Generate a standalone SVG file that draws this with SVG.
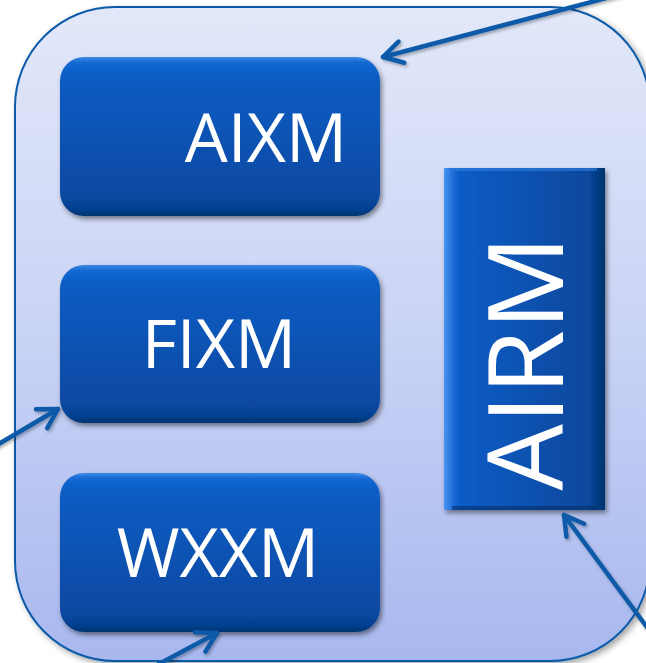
<svg xmlns="http://www.w3.org/2000/svg" width="646" height="663" viewBox="0 0 646 663">
<defs>
  <linearGradient id="bg" x1="0" y1="0" x2="0" y2="1">
    <stop offset="0" stop-color="#e2e8f9"/>
    <stop offset="0.5" stop-color="#c9d3f5"/>
    <stop offset="1" stop-color="#a8b8ef"/>
  </linearGradient>
  <linearGradient id="box" x1="0" y1="0" x2="0" y2="1">
    <stop offset="0" stop-color="#3b8ae6"/>
    <stop offset="0.035" stop-color="#1468d2"/>
    <stop offset="0.12" stop-color="#0a5cc4"/>
    <stop offset="0.88" stop-color="#0749a2"/>
    <stop offset="0.96" stop-color="#063f8e"/>
    <stop offset="1" stop-color="#05336f"/>
  </linearGradient>
  <linearGradient id="airm" x1="0" y1="0" x2="1" y2="0">
    <stop offset="0" stop-color="#4a95f2"/>
    <stop offset="0.06" stop-color="#1a6ad6"/>
    <stop offset="0.1" stop-color="#0a5cc6"/>
    <stop offset="0.9" stop-color="#07489c"/>
    <stop offset="0.94" stop-color="#063e88"/>
    <stop offset="1" stop-color="#05346f"/>
  </linearGradient>
  <filter id="sh" x="-10%" y="-10%" width="125%" height="125%">
    <feDropShadow dx="2" dy="3" stdDeviation="2.5" flood-color="#000" flood-opacity="0.45"/>
  </filter>
  <filter id="shc" x="-5%" y="-5%" width="115%" height="115%">
    <feDropShadow dx="3" dy="3" stdDeviation="3" flood-color="#000" flood-opacity="0.35"/>
  </filter>
  <filter id="sha" x="-10%" y="-10%" width="130%" height="130%">
    <feDropShadow dx="1.5" dy="2" stdDeviation="1.5" flood-color="#000" flood-opacity="0.3"/>
  </filter>
  <marker id="ah" markerUnits="userSpaceOnUse" viewBox="-30 -20 40 40" markerWidth="40" markerHeight="40" refX="0" refY="0" orient="auto" overflow="visible">
    <path d="M-19,-11 L0,0 L-19,11" fill="none" stroke="#0b5aa8" stroke-width="4.5" stroke-linecap="round" stroke-linejoin="round"/>
  </marker>
  <style>
    .node { fill: url(#box); filter: url(#sh); }
    .lbl { font-family: "Open Sans", "Liberation Sans", sans-serif; fill: #ffffff; text-anchor: middle; }
    .conn { stroke: #0b5aa8; stroke-width: 4.5; fill: none; stroke-linecap: round; marker-end: url(#ah); }
  </style>
</defs>

<g id="container">
  <rect x="15" y="7" width="635" height="654" rx="100" ry="100" fill="url(#bg)" stroke="#0b5aa8" stroke-width="2" filter="url(#shc)"/>
</g>

<g id="node-aixm">
  <rect class="node" x="60" y="57" width="320" height="159" rx="24" ry="24"/>
  <text class="lbl" x="266" y="162" font-size="68">AIXM</text>
</g>

<g id="node-fixm">
  <rect class="node" x="60" y="265" width="320" height="158" rx="24" ry="24"/>
  <text class="lbl" x="219" y="368" font-size="68">FIXM</text>
</g>

<g id="node-wxxm">
  <rect class="node" x="60" y="473" width="320" height="159" rx="24" ry="24"/>
  <text class="lbl" x="218" y="577" font-size="68">WXXM</text>
</g>

<g id="node-airm">
  <rect x="444" y="168" width="161" height="342" fill="url(#airm)" filter="url(#sh)"/>
  <rect x="452" y="168" width="145" height="3" fill="#2f7fe0" opacity="0.6"/>
  <rect x="452" y="506" width="145" height="4" fill="#04306a" opacity="0.6"/>
  <text class="lbl" transform="translate(563,363) rotate(-90)" font-size="105">AIRM</text>
</g>

<g id="connectors" filter="url(#sha)">
  <path class="conn" d="M652,-14 L383,57"/>
  <path class="conn" d="M-3,445 L58,409"/>
  <path class="conn" d="M157,665 L217,633"/>
  <path class="conn" d="M649,630 L564,515"/>
</g>
</svg>
